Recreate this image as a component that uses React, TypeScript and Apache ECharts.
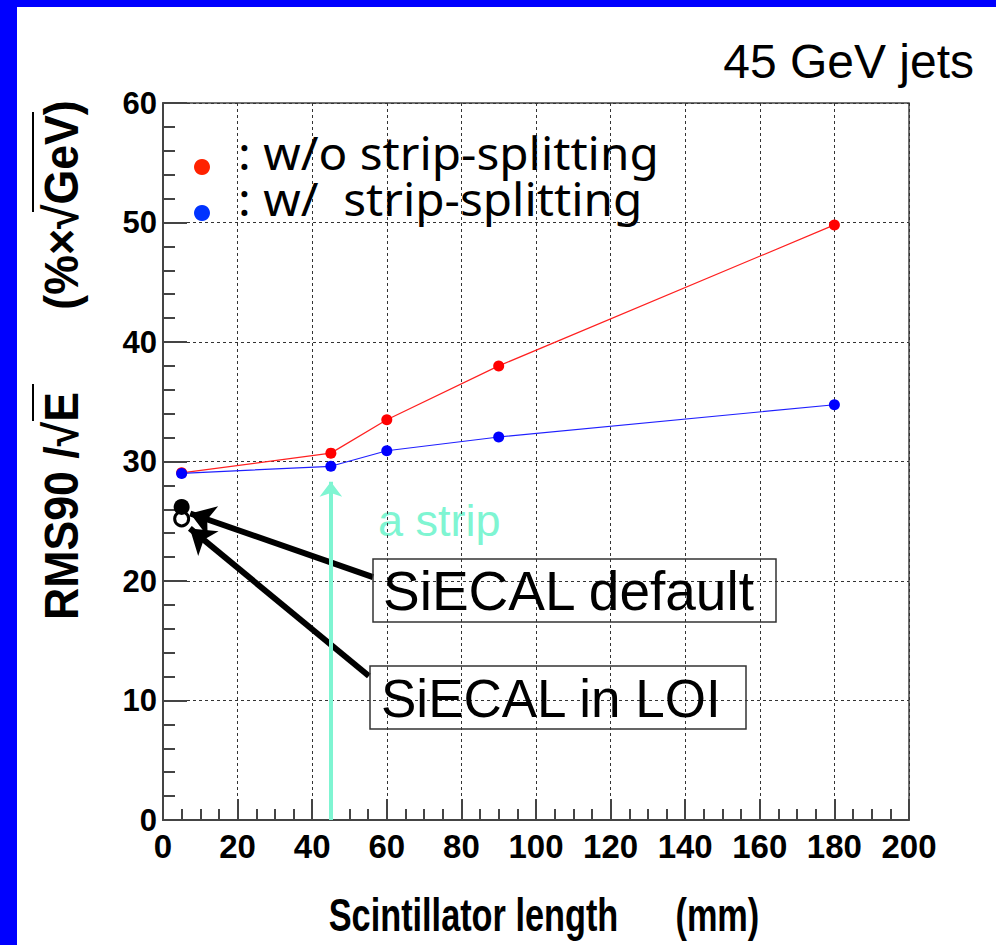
import React, { useEffect, useRef } from "react";
import * as echarts from "echarts";

const xTicks = [0, 20, 40, 60, 80, 100, 120, 140, 160, 180, 200];
const lengths = [5, 45, 60, 90, 180];
const withoutSplitting = [29.05, 30.7, 33.5, 38.0, 49.8];
const withSplitting = [29.0, 29.6, 30.9, 32.05, 34.75];
const siecalDefault = [[5, 26.2]];
const siecalLOI = [[5, 25.2]];
const stripLength = 45;

const redName = ": w/o strip-splitting";
const blueName = ": w/  strip-splitting";

export default function App() {
  const ref = useRef<HTMLDivElement>(null);
  useEffect(() => {
    if (!ref.current) return;
    const chart = echarts.init(ref.current, null, { renderer: "svg" });
    const titleFont = "Liberation Sans, Arial, sans-serif";
    const legendFont = "Noto Sans, sans-serif";
    chart.setOption({
      animation: false,
      backgroundColor: "#ffffff",
      grid: {
        left: 163,
        top: 103,
        width: 746,
        height: 717,
        show: true,
        borderColor: "#444",
        borderWidth: 1.5,
        containLabel: false,
      },
      xAxis: {
        type: "value",
        min: xTicks[0],
        max: xTicks[xTicks.length - 1],
        interval: 20,
        axisLine: { show: true, lineStyle: { color: "#444", width: 2 } },
        axisTick: { show: true, inside: true, length: 21, lineStyle: { color: "#444", width: 2 } },
        minorTick: { show: true, splitNumber: 4, length: 11, lineStyle: { color: "#444", width: 2 } },
        splitLine: { show: true, lineStyle: { color: "#333", width: 1, type: [3, 3] } },
        axisLabel: {
          margin: 10,
          color: "#000",
          fontFamily: titleFont,
          fontWeight: "bold",
          fontSize: 33,
        },
      },
      yAxis: {
        type: "value",
        min: 0,
        max: 60,
        interval: 10,
        axisLine: { show: true, lineStyle: { color: "#444", width: 2 } },
        axisTick: { show: true, inside: true, length: 24, lineStyle: { color: "#444", width: 2 } },
        minorTick: { show: true, splitNumber: 5, length: 12, lineStyle: { color: "#444", width: 2 } },
        splitLine: { show: true, lineStyle: { color: "#333", width: 1, type: [3, 3] } },
        axisLabel: {
          margin: 6,
          color: "#000",
          fontFamily: titleFont,
          fontWeight: "bold",
          fontSize: 31,
        },
      },
      series: [
        {
          name: "SiECAL in LOI",
          type: "scatter",
          data: siecalLOI,
          symbol: "circle",
          symbolSize: 14,
          itemStyle: { color: "#ffffff", borderColor: "#000", borderWidth: 3, opacity: 1 },
          z: 3,
        },
        {
          name: "SiECAL default",
          type: "scatter",
          data: siecalDefault,
          symbol: "circle",
          symbolSize: 16,
          itemStyle: { color: "#000", opacity: 1 },
          z: 3,
          markLine: {
            silent: true,
            animation: false,
            label: { show: false },
            symbol: ["none", "arrow"],
            symbolSize: 24,
            lineStyle: { color: "#000", width: 6, type: "solid", opacity: 1 },
            data: [
              [{ coord: [56.3, 20.33] }, { coord: [7.3, 25.65] }],
              [{ coord: [55.2, 12.05] }, { coord: [7.2, 24.4] }],
            ],
          },
        },
        {
          name: redName,
          type: "line",
          data: lengths.map((x, i) => [x, withoutSplitting[i]]),
          symbol: "circle",
          symbolSize: 11,
          itemStyle: { color: "#ff0000" },
          lineStyle: { color: "#ff2020", width: 1.2 },
          z: 4,
        },
        {
          name: blueName,
          type: "line",
          data: lengths.map((x, i) => [x, withSplitting[i]]),
          symbol: "circle",
          symbolSize: 11,
          itemStyle: { color: "#0000ff" },
          lineStyle: { color: "#2020ff", width: 1.2 },
          z: 4,
          markLine: {
            silent: true,
            animation: false,
            label: { show: false },
            symbol: ["none", "arrow"],
            symbolSize: [17, 15],
            lineStyle: { color: "#7ff5d2", width: 4, type: "solid", opacity: 1 },
            data: [[{ coord: [stripLength, 0] }, { coord: [stripLength, 28.3] }]],
          },
        },
      ],
      graphic: [
        { type: "rect", shape: { x: 0, y: 0, width: 17, height: 945 }, style: { fill: "#0000ff" }, z: 100 },
        { type: "rect", shape: { x: 0, y: 0, width: 996, height: 7 }, style: { fill: "#0000ff" }, z: 100 },
        { type: "circle", shape: { cx: 202, cy: 167, r: 8 }, style: { fill: "#ff2200" }, z: 60 },
        { type: "circle", shape: { cx: 202, cy: 213, r: 8 }, style: { fill: "#0033ff" }, z: 60 },
        {
          type: "text",
          x: 238,
          y: 153,
          scaleX: 1.06,
          z: 60,
          style: {
            text: redName,
            fill: "#000",
            font: `normal 45px ${legendFont}`,
            textAlign: "left",
            textVerticalAlign: "middle",
          },
        },
        {
          type: "text",
          x: 238,
          y: 199,
          scaleX: 1.06,
          z: 60,
          style: {
            text: blueName,
            fill: "#000",
            font: `normal 45px ${legendFont}`,
            textAlign: "left",
            textVerticalAlign: "middle",
          },
        },
        {
          type: "text",
          x: 974,
          y: 37,
          style: {
            text: "45 GeV jets",
            fill: "#000",
            font: `normal 48px ${titleFont}`,
            textAlign: "right",
            textVerticalAlign: "top",
          },
        },
        {
          type: "text",
          x: 61,
          y: 506,
          rotation: Math.PI / 2,
          scaleX: 0.93,
          style: {
            text: "RMS90 /√E",
            fill: "#000",
            font: `bold 48px ${titleFont}`,
            textAlign: "center",
            textVerticalAlign: "middle",
          },
        },
        {
          type: "line",
          shape: { x1: 33, y1: 384, x2: 33, y2: 421 },
          style: { stroke: "#000", lineWidth: 2 },
        },
        {
          type: "text",
          x: 61,
          y: 205,
          rotation: Math.PI / 2,
          scaleX: 0.93,
          style: {
            text: "(%×√GeV)",
            fill: "#000",
            font: `bold 48px ${titleFont}`,
            textAlign: "center",
            textVerticalAlign: "middle",
          },
        },
        {
          type: "line",
          shape: { x1: 33, y1: 112, x2: 33, y2: 212 },
          style: { stroke: "#000", lineWidth: 2 },
        },
        {
          type: "text",
          x: 544,
          y: 915,
          scaleX: 0.73,
          style: {
            text: "Scintillator length      (mm)",
            fill: "#000",
            font: `bold 47px ${titleFont}`,
            textAlign: "center",
            textVerticalAlign: "middle",
          },
        },
        {
          type: "text",
          x: 378,
          y: 520,
          style: {
            text: "a strip",
            fill: "#7ff5d2",
            font: `normal 45px ${titleFont}`,
            textAlign: "left",
            textVerticalAlign: "middle",
          },
        },
        {
          type: "rect",
          shape: { x: 373, y: 559, width: 403, height: 63 },
          style: { fill: "none", stroke: "#333", lineWidth: 1.5 },
          z: 50,
        },
        {
          type: "text",
          x: 383,
          y: 591,
          style: {
            text: "SiECAL default",
            fill: "#000",
            font: `normal 55px ${titleFont}`,
            textAlign: "left",
            textVerticalAlign: "middle",
          },
          z: 50,
        },
        {
          type: "rect",
          shape: { x: 370, y: 666, width: 376, height: 63 },
          style: { fill: "none", stroke: "#333", lineWidth: 1.5 },
          z: 50,
        },
        {
          type: "text",
          x: 381,
          y: 698,
          style: {
            text: "SiECAL in LOI",
            fill: "#000",
            font: `normal 53px ${titleFont}`,
            textAlign: "left",
            textVerticalAlign: "middle",
          },
          z: 50,
        },
      ],
    });
    return () => chart.dispose();
  }, []);
  return (
    <div
      ref={ref}
      style={{ position: "absolute", left: 0, top: 0, width: 996, height: 945 }}
    />
  );
}
